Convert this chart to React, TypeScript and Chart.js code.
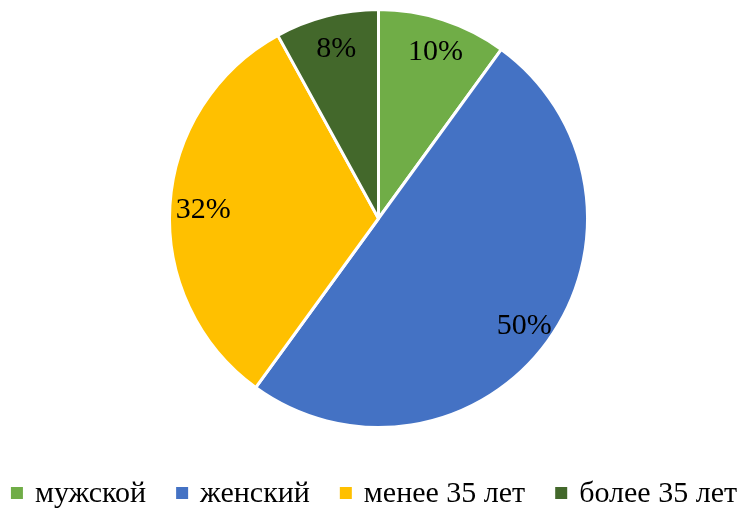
import React, { useEffect, useRef } from "react";
import { Chart, registerables } from "chart.js";

Chart.register(...registerables);

const categories = ["мужской", "женский", "менее 35 лет", "более 35 лет"];
const values = [10, 50, 32, 8];
const colors = ["#70AD47", "#4472C4", "#FFC000", "#43682B"];

const labelPlugin = {
  id: "sliceLabels",
  afterDatasetsDraw(chart: any) {
    const ctx = chart.ctx;
    const meta = chart.getDatasetMeta(0);
    ctx.save();
    ctx.font = '30px "Liberation Serif"';
    ctx.fillStyle = "#000";
    ctx.textAlign = "center";
    ctx.textBaseline = "middle";
    meta.data.forEach((arc: any, i: number) => {
      const { x, y, startAngle, endAngle, outerRadius } = arc.getProps(
        ["x", "y", "startAngle", "endAngle", "outerRadius"],
        true
      );
      const mid = (startAngle + endAngle) / 2;
      const r = outerRadius * 0.85;
      ctx.fillText(values[i] + "%", x + Math.cos(mid) * r + 2, y + Math.sin(mid) * r + 3);
    });
    ctx.restore();
  },
};

const legendPlugin = {
  id: "bottomLegend",
  afterDraw(chart: any) {
    const ctx = chart.ctx;
    ctx.save();
    ctx.font = '30px "Liberation Serif"';
    ctx.textBaseline = "middle";
    ctx.textAlign = "left";
    const box = 12;
    const gapText = 12;
    const gapItem = 30;
    const widths = categories.map((c) => ctx.measureText(c).width);
    const total =
      widths.reduce((a, w) => a + box + gapText + w, 0) + gapItem * (categories.length - 1);
    let x = 374 - total / 2;
    const cy = 494;
    categories.forEach((c, i) => {
      ctx.fillStyle = colors[i];
      ctx.fillRect(x, cy - 7, box, box);
      ctx.fillStyle = "#000";
      ctx.fillText(c, x + box + gapText, cy);
      x += box + gapText + widths[i] + gapItem;
    });
    ctx.restore();
  },
};

export default function App() {
  const ref = useRef<HTMLCanvasElement>(null);
  useEffect(() => {
    const chart = new Chart(ref.current!, {
      type: "pie",
      data: {
        labels: categories,
        datasets: [
          {
            data: values,
            backgroundColor: colors,
            borderColor: "#ffffff",
            borderWidth: 3,
            hoverOffset: 0,
          },
        ],
      },
      options: {
        animation: false,
        responsive: false,
        layout: { padding: { top: 8, left: 16, right: 0, bottom: 79 } },
        plugins: {
          tooltip: { enabled: false },
          legend: { display: false },
        },
      },
      plugins: [labelPlugin, legendPlugin],
    });
    return () => chart.destroy();
  }, []);
  return (
    <div style={{ position: "fixed", left: 0, top: 0, width: 741, height: 508, background: "#fff" }}>
      <canvas ref={ref} width={741} height={508} style={{ display: "block" }} />
    </div>
  );
}
